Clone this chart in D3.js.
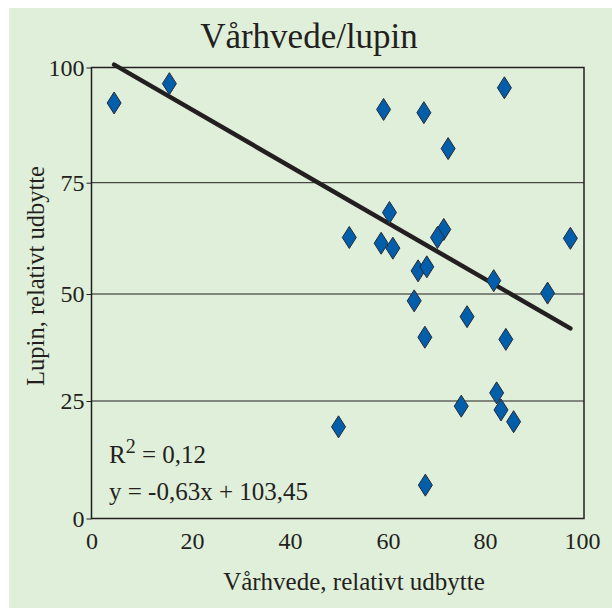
<!DOCTYPE html>
<html>
<head>
<meta charset="utf-8">
<script src="https://cdn.jsdelivr.net/npm/d3@7"></script>
<style>
  body { margin: 0; background: #fff; }
  text { font-family: "Liberation Serif", "Times New Roman", serif; fill: #231f20; }
</style>
</head>
<body>
<svg id="chart"></svg>
<script>
// Chart size
const width = 612;
const height = 608;
const serif = '"Liberation Serif", "Times New Roman", serif';

// Data: spring wheat vs lupin relative yield
const wheat = [4.5, 15.5, 59.1, 67.4, 84.0, 72.4, 60.3, 52.1, 58.6, 61.0, 71.5, 70.2, 97.6, 66.2,
               68.0, 81.8, 92.9, 65.4, 76.3, 67.6, 84.3, 82.4, 75.1, 83.3, 85.9, 49.9, 67.7];
const lupin = [92.3, 96.5, 90.9, 90.2, 95.6, 82.4, 68.3, 62.7, 61.4, 60.3, 64.5, 62.7, 62.5, 55.2,
               56.1, 53.0, 50.2, 48.4, 44.7, 39.9, 39.4, 26.9, 23.9, 23.1, 20.6, 19.5, 7.1];
const xTicks = [0, 20, 40, 60, 80, 100];
const yTicks = [0, 25, 50, 75, 100];
const trend = { slope: -0.63, intercept: 103.45 };
const annotations = ["= 0,12", "y = -0,63x + 103,45"];

const svg = d3.select("#chart")
    .attr("width", width)
    .attr("height", height);

// light green panel
svg.append("rect")
    .attr("x", 9).attr("y", 8)
    .attr("width", width - 9).attr("height", height - 8)
    .attr("fill", "#e0efd9");

// scales (the scanned original is slightly uneven, so the axes are polylinear)
const x = d3.scaleLinear().domain(xTicks).range([91.5, 192, 290, 388, 485, 582]);
const y = d3.scaleLinear().domain(yTicks).range([518.5, 401, 294, 182.7, 67.5]);

const plotLeft = x(0), plotRight = x(100) + 2;

// gridlines
svg.append("g")
    .selectAll("line")
    .data(yTicks.filter(d => d > 0 && d < 100))
    .enter()
    .append("line")
    .attr("x1", plotLeft).attr("x2", plotRight)
    .attr("y1", d => y(d)).attr("y2", d => y(d))
    .attr("stroke", "#231f20")
    .attr("stroke-width", 1);

// frame
svg.append("rect")
    .attr("x", plotLeft).attr("y", y(100))
    .attr("width", plotRight - plotLeft)
    .attr("height", y(0) - y(100))
    .attr("fill", "none")
    .attr("stroke", "#231f20")
    .attr("stroke-width", 1.5);

// y axis
const yAxis = svg.append("g")
    .attr("transform", `translate(${plotLeft},0)`)
    .call(d3.axisLeft(y).tickValues(yTicks).tickSize(5).tickPadding(2).tickFormat(d3.format("d")));
yAxis.attr("font-family", null).attr("font-size", null);
yAxis.select(".domain").remove();
yAxis.selectAll("line").attr("stroke", "#231f20");
yAxis.selectAll("text").style("font-family", serif).style("font-size", "24px").attr("fill", "#231f20");

// x axis
const xAxis = svg.append("g")
    .attr("transform", `translate(0,${y(0)})`)
    .call(d3.axisBottom(x).tickValues(xTicks).tickSize(0).tickPadding(13).tickFormat(d3.format("d")));
xAxis.attr("font-family", null).attr("font-size", null);
xAxis.select(".domain").remove();
xAxis.selectAll("text").style("font-family", serif).style("font-size", "24px").attr("fill", "#231f20");

// trend line over the range of the data
const xExt = d3.extent(wheat);
svg.append("line")
    .attr("x1", x(xExt[0])).attr("y1", y(trend.slope * xExt[0] + trend.intercept))
    .attr("x2", x(xExt[1])).attr("y2", y(trend.slope * xExt[1] + trend.intercept))
    .attr("stroke", "#231f20")
    .attr("stroke-width", 4.5)
    .attr("stroke-linecap", "round");

// diamonds
const points = wheat.map((w, i) => ({ w: w, l: lupin[i] }));
svg.selectAll("path.pt")
    .data(points)
    .enter()
    .append("path")
    .attr("class", "pt")
    .attr("d", "M0,-11L7,0L0,11L-7,0Z")
    .attr("transform", d => `translate(${x(d.w)},${y(d.l)})`)
    .attr("fill", "#005eaa")
    .attr("stroke", "#2a2a35")
    .attr("stroke-width", 1);

// title
svg.append("text")
    .attr("x", 309).attr("y", 47.5)
    .attr("text-anchor", "middle")
    .attr("font-size", 35)
    .text("Vårhvede/lupin");

// axis titles
svg.append("text")
    .attr("x", 354).attr("y", 590)
    .attr("text-anchor", "middle")
    .attr("font-size", 25)
    .text("Vårhvede, relativt udbytte");

svg.append("text")
    .attr("transform", "translate(44,276) rotate(-90)")
    .attr("text-anchor", "middle")
    .attr("font-size", 24.5)
    .text("Lupin, relativt udbytte");

// regression annotation
const r2 = svg.append("text")
    .attr("x", 109).attr("y", 462.5)
    .attr("font-size", 25);
r2.append("tspan").text("R");
r2.append("tspan").attr("dy", -10).attr("font-size", 20).text("2");
r2.append("tspan").attr("dy", 10).text(" " + annotations[0]);

svg.append("text")
    .attr("x", 109).attr("y", 500)
    .attr("font-size", 25)
    .text(annotations[1]);
</script>
</body>
</html>
